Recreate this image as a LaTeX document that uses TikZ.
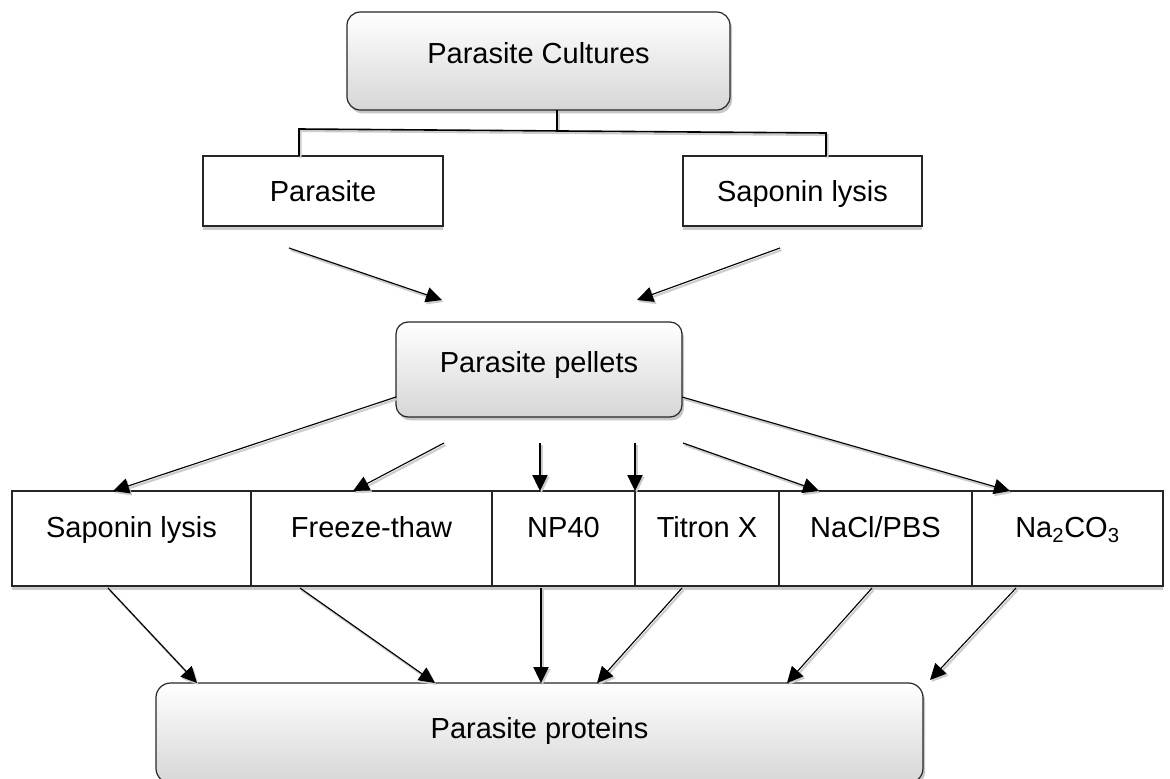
\documentclass[tikz,border=0pt]{standalone}
\usepackage{fontspec}
\setmainfont{Liberation Sans}
\usetikzlibrary{arrows.meta,shadows,calc}

\begin{document}
\begin{tikzpicture}[x=.75pt,y=-.75pt,
  every node/.style={font=\fontsize{21.75}{26}\selectfont,inner sep=0pt,outer sep=0pt,text height=16pt},
  lift/.style={text depth=#1},
  stage/.style={draw=black!85,line width=.9pt,rounded corners=10pt,top color=white,bottom color=black!16,
    drop shadow={shadow xshift=1.5pt,shadow yshift=-2.5pt,fill=black!22,opacity=1}},
  method/.style={draw=black!85,line width=.9pt,fill=white,minimum height=71.25pt,
    drop shadow={shadow xshift=0pt,shadow yshift=-3pt,fill=black!20,opacity=1}},
  halo/.style={preaction={draw=black!20,line width=1.6pt,transform canvas={shift={(1.2pt,-1.5pt)}}}},
  tree/.style={line width=1.2pt,halo},
  link/.style={line width=.85pt,-{Triangle[length=12pt,width=11.5pt]},halo}
  ]
\useasboundingbox (0,0) rectangle (1170,778);

% boxes
\node[stage,minimum width=287.25pt,minimum height=73.5pt,lift=12.4pt] (cult) at (538.5,61) {Parasite Cultures};
\node[method,minimum width=180pt,minimum height=52.5pt,lift=0pt] (par) at (323,191) {Parasite};
\node[method,minimum width=179.25pt,minimum height=52.5pt,lift=0pt] (sap) at (802.5,191) {Saponin lysis};
\node[stage,rounded corners=9pt,minimum width=214.5pt,minimum height=71.25pt,lift=10.9pt] (pel) at (539,369.5) {Parasite pellets};

\node[method,minimum width=179.25pt,lift=17.6pt] (lys) at (131.5,538.5) {Saponin lysis};
\node[method,minimum width=180.75pt,lift=17.6pt] (frz) at (371.5,538.5) {Freeze-thaw};
\node[method,minimum width=107.25pt,lift=17.6pt] (np) at (563.5,538.5) {NP40};
\node[method,minimum width=108pt,lift=17.6pt] (tri) at (707,538.5) {Titron X};
\node[method,minimum width=144.75pt,lift=17.6pt] (nacl) at (875.5,538.5) {NaCl/PBS};
\node[method,minimum width=143.25pt,lift=17.6pt] (carb) at (1067.5,538.5) {Na\textsubscript{2}CO\textsubscript{3}};

\node[stage,rounded corners=11pt,minimum width=575.25pt,minimum height=75pt,lift=7.9pt] (prot) at (539.5,733) {Parasite proteins};

% branch under the cultures
\draw[tree] ($(cult.south)+(18.5,0)$) -- ++(0,21);
\draw[tree] ($(par.north)+(-24,0)$) -- ++(0,-27) -- ($(sap.north)+(23.5,-23)$) -- ($(sap.north)+(23.5,0)$);

% into the pellets
\coordinate (parout) at (289,248);
\coordinate (sapout) at (780,248);
\coordinate (pelinL) at (442,300);
\coordinate (pelinR) at (637,300);
\draw[link] (parout) -- (pelinL);
\draw[link] (sapout) -- (pelinR);

% pellets to the methods
\coordinate (pelB1) at (444,443);
\coordinate (pelB2) at (540,443);
\coordinate (pelB3) at (635,443);
\coordinate (pelB4) at (683,443);
\draw[link] ($(pel.west)+(0,27.5)$) -- ($(lys.north)+(-18.5,0)$);
\draw[link] (pelB1) -- ($(frz.north)+(-18.5,0)$);
\draw[link] (pelB2) -- (pelB2 |- np.north);
\draw[link] (pelB3) -- (pelB3 |- tri.north);
\draw[link] (pelB4) -- ($(nacl.north)+(-56.5,0)$);
\draw[link] ($(pel.east)+(0,27.5)$) -- ($(carb.north)+(-57.5,0)$);

% methods to the proteins
\path ($(np.south)+(-22.5,2)$) coordinate (npout);
\draw[link] ($(lys.south)+(-23.5,2)$) -- ($(prot.north)+(-342.5,0)$);
\draw[link] ($(frz.south)+(-71.5,2)$) -- ($(prot.north)+(-104.5,0)$);
\draw[link] (npout) -- (npout |- prot.north);
\draw[link] ($(tri.south)+(-25,2)$) -- ($(prot.north)+(57.5,0)$);
\draw[link] ($(nacl.south)+(-3.5,2)$) -- ($(prot.north)+(247.5,0)$);
\draw[link] ($(carb.south)+(-51.5,2)$) -- ($(prot.north east)+(7,-3)$);
\end{tikzpicture}
\end{document}
